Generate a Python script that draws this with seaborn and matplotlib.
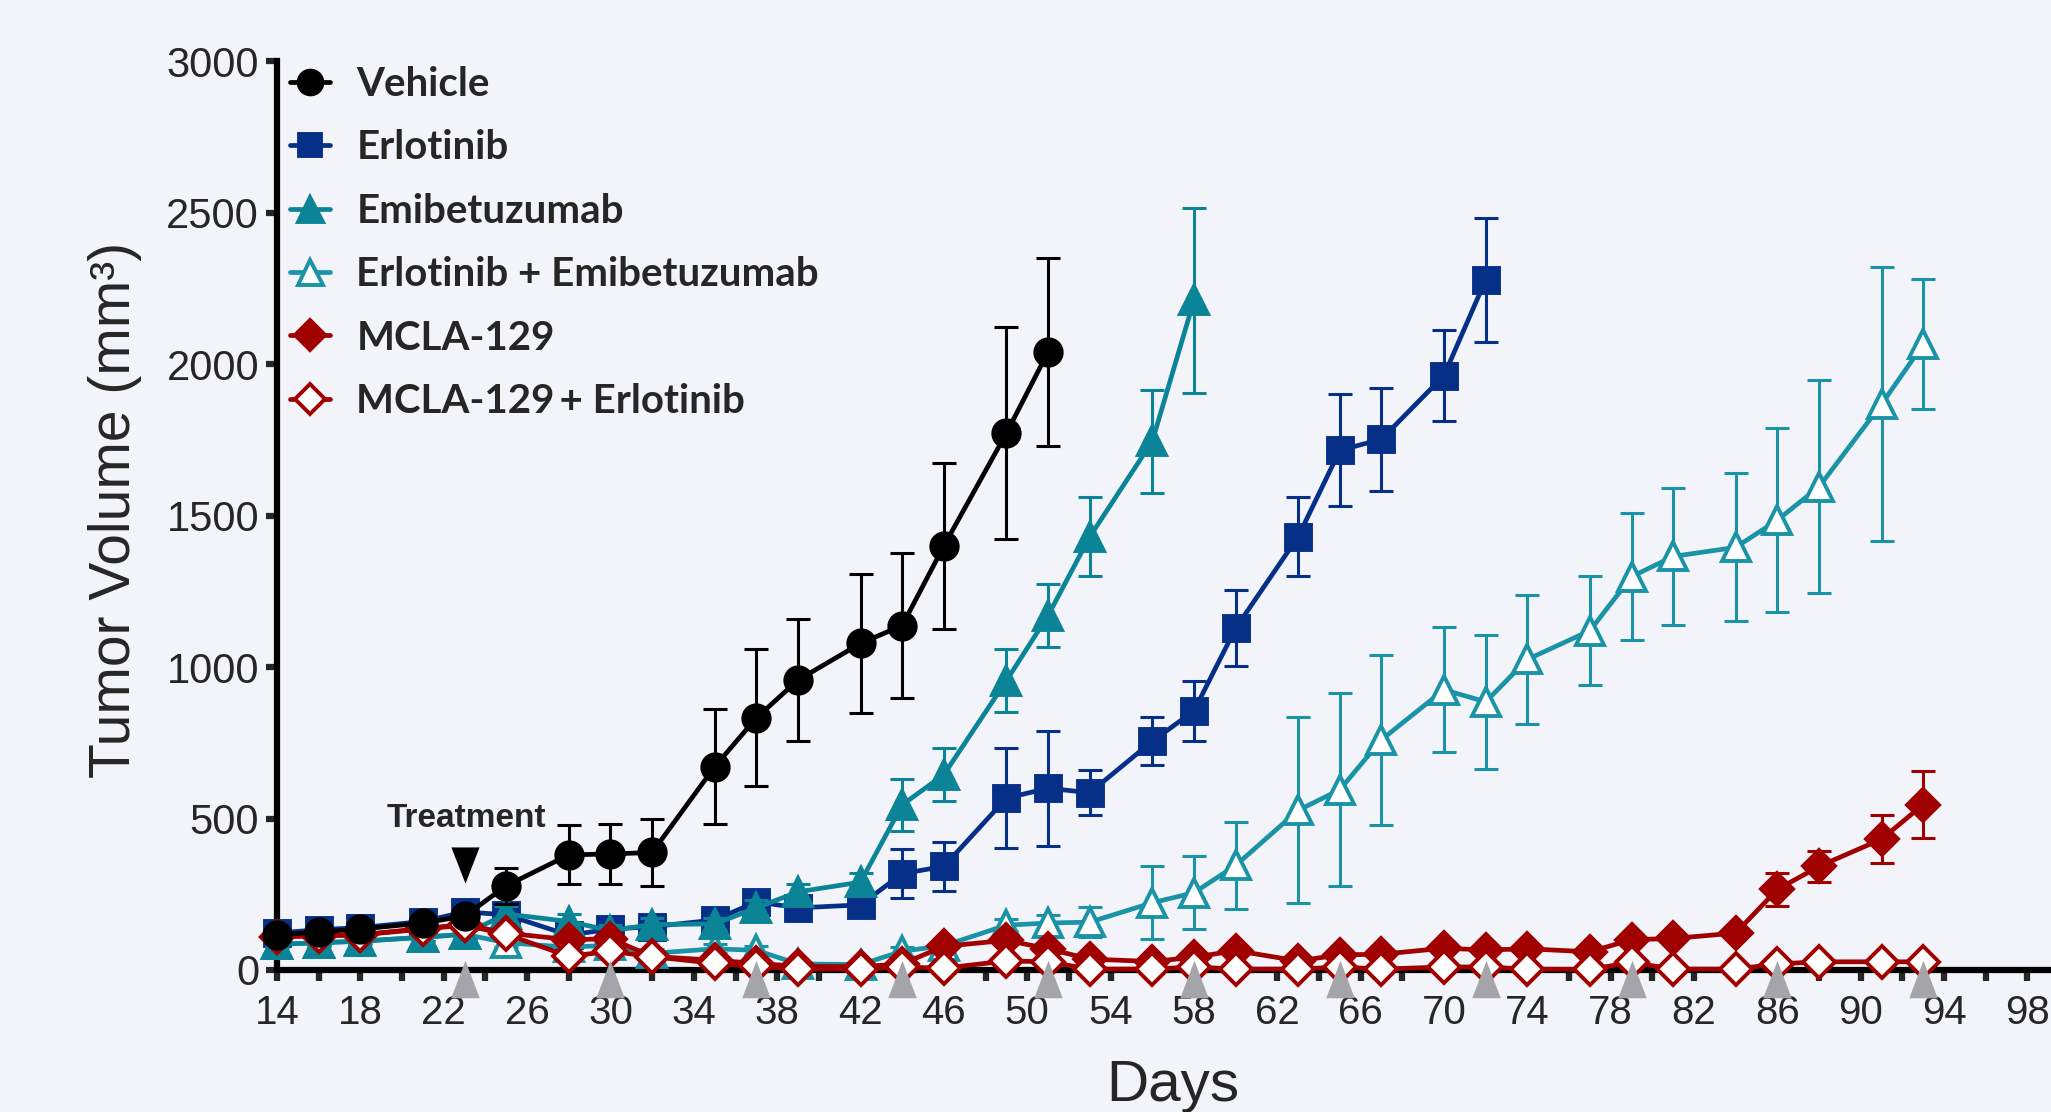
import numpy as np
import pandas as pd
import matplotlib
matplotlib.use("Agg")
import matplotlib.pyplot as plt
import matplotlib.transforms as mtransforms
from matplotlib.lines import Line2D
import seaborn as sns

# ---- data (mean +/- SEM, mm3) ----
all_days = [14, 16, 18, 21, 23, 25, 28, 30, 32, 35, 37, 39, 42, 44, 46, 49, 51, 53,
            56, 58, 60, 63, 65, 67, 70, 72, 74, 77, 79, 81, 84, 86, 88, 91, 93]

vehicle = [115, 126, 135, 155, 178, 278, 380, 383, 388, 671, 832, 957, 1078, 1137,
           1400, 1772, 2040]
vehicle_sem = [10, 12, 12, 18, 25, 60, 97, 100, 110, 190, 226, 200, 229, 240, 275,
               350, 310]

erlotinib = [122, 133, 140, 160, 192, 182, 115, 135, 143, 165, 225, 205, 215, 318,
             342, 567, 600, 585, 755, 855, 1128, 1430, 1715, 1752, 1962, 2278]
erlotinib_sem = [10, 12, 12, 20, 35, 30, 20, 15, 15, 20, 30, 25, 25, 80, 80, 165,
                 190, 75, 80, 100, 125, 130, 185, 170, 150, 205]

emibetuzumab = [85, 90, 95, 108, 118, 185, 160, 130, 150, 152, 205, 258, 290, 545,
                645, 955, 1170, 1430, 1745, 2210]
emibetuzumab_sem = [10, 10, 10, 12, 15, 25, 25, 20, 20, 20, 25, 25, 30, 85, 88, 103,
                    103, 130, 170, 305]

erl_emi = [85, 90, 95, 108, 118, 90, 75, 82, 55, 70, 65, 20, 18, 62, 80, 148, 155,
           158, 222, 255, 345, 527, 595, 760, 925, 885, 1025, 1120, 1298, 1365, 1395,
           1485, 1595, 1868, 2065]
erl_emi_sem = [10, 10, 10, 12, 15, 15, 15, 15, 15, 15, 15, 10, 10, 15, 15, 20, 25,
               50, 121, 121, 143, 307, 318, 281, 207, 222, 212, 181, 210, 227, 244,
               303, 352, 452, 214]

mcla = [110, 113, 116, 137, 150, 122, 100, 103, 45, 32, 22, 12, 11, 20, 78, 98, 70,
        36, 28, 42, 64, 30, 50, 52, 72, 66, 70, 60, 100, 104, 122, 266, 342, 432, 546]
mcla_sem = [10, 10, 10, 15, 15, 15, 15, 15, 10, 10, 10, 8, 8, 8, 10, 10, 10, 8, 8, 8,
            10, 8, 8, 8, 10, 10, 10, 10, 12, 12, 12, 55, 50, 80, 110]

mcla_erl = [110, 113, 116, 135, 148, 118, 45, 62, 44, 22, 12, 3, 3, 10, 6, 30, 27, 3,
            3, 10, 3, 3, 10, 3, 10, 10, 3, 2, 25, 3, 3, 20, 27, 27, 27]
mcla_erl_sem = [8] * 35

dose_days = [23, 30, 37, 44, 51, 58, 65, 72, 79, 86, 93]
treatment_day = 23
treatment_level = 346

x_ticks = list(range(14, 99, 4))
y_ticks = [0, 500, 1000, 1500, 2000, 2500, 3000]

groups = ["Vehicle", "Erlotinib", "Emibetuzumab", "Erlotinib + Emibetuzumab",
          "MCLA-129", "MCLA-129 + Erlotinib"]
legend_labels = ["Vehicle", "Erlotinib", "Emibetuzumab", "Erlotinib + Emibetuzumab",
                 "MCLA-129", "MCLA-129\u2009+ Erlotinib"]
means = [vehicle, erlotinib, emibetuzumab, erl_emi, mcla, mcla_erl]
sems = [vehicle_sem, erlotinib_sem, emibetuzumab_sem, erl_emi_sem, mcla_sem, mcla_erl_sem]

# ---- styles ----
bg = "#F3F4FA"
styles = {
    "Vehicle": dict(color="#000000", marker="o", ms=19, mfc="#000000", z=7),
    "Erlotinib": dict(color="#062F88", marker="s", ms=18, mfc="#062F88", z=2),
    "Emibetuzumab": dict(color="#0B8497", marker="^", ms=20, mfc="#0B8497", z=4),
    "Erlotinib + Emibetuzumab": dict(color="#1A93A6", marker="^", ms=20, mfc="white", z=3),
    "MCLA-129": dict(color="#A00000", marker="D", ms=16.5, mfc="#A00000", z=5),
    "MCLA-129 + Erlotinib": dict(color="#A00000", marker="D", ms=16.5, mfc="white", z=6),
}

frames = []
for g, m, s in zip(groups, means, sems):
    frames.append(pd.DataFrame({"group": g, "day": all_days[:len(m)], "volume": m, "sem": s}))
df = pd.concat(frames, ignore_index=True)

sns.set_style("ticks")
plt.rcParams["font.family"] = ["Liberation Sans", "DejaVu Sans"]
plt.rcParams["axes.facecolor"] = bg
plt.rcParams["figure.facecolor"] = bg

fig = plt.figure(figsize=(20.51, 11.12), dpi=100)
ax = fig.add_axes([0.1351, 0.1277, 0.8649, 0.8174])
ax.set_facecolor(bg)

for g in groups:
    st = styles[g]
    sub = df[df["group"] == g]
    ax.errorbar(sub["day"], sub["volume"], yerr=sub["sem"], fmt="none",
                ecolor=st["color"], elinewidth=2.2, capsize=8.5, capthick=2.2,
                zorder=st["z"], clip_on=False)
    sns.lineplot(data=sub, x="day", y="volume", ax=ax, color=st["color"],
                 linewidth=3.4, marker=st["marker"], markersize=st["ms"],
                 markerfacecolor=st["mfc"], markeredgecolor=st["color"],
                 markeredgewidth=2.8, zorder=st["z"] + 0.5, clip_on=False,
                 errorbar=None, legend=False)

ax.set_xlim(14, 99.13)
ax.set_ylim(0, 3000)
ax.set_xticks(x_ticks)
ax.set_xticks(list(range(16, 98, 4)), minor=True)
ax.set_yticks(y_ticks)
sns.despine(ax=ax)
for side in ["left", "bottom"]:
    ax.spines[side].set_linewidth(4.5)
    ax.spines[side].set_color("black")
    ax.spines[side].set_zorder(1)
ax.tick_params(axis="x", which="both", direction="out", length=8, width=4.5,
               pad=9, labelsize=29)
ax.tick_params(axis="y", which="both", direction="out", length=8, width=4.5,
               pad=5, labelsize=30)
for lab in ax.get_xticklabels():
    lab.set_family(["Liberation Sans Narrow", "Liberation Sans"])

ax.set_xlabel("Days", fontsize=42, family=["Liberation Sans Narrow", "Liberation Sans"])
ax.xaxis.label.set_va("center")
ax.xaxis.set_label_coords(0.505, -0.128)
ax.set_ylabel("Tumor Volume (mm\u00b3)", fontsize=41)
ax.yaxis.label.set_va("center")
ax.yaxis.set_label_coords(-0.0913, 0.506)

# dosing arrowheads below the axis
trans = mtransforms.blended_transform_factory(ax.transData, ax.transAxes)
tall_up = [(-0.38, -0.5), (0.38, -0.5), (0.0, 0.5), (-0.38, -0.5)]
ax.plot(dose_days, [-0.0099] * len(dose_days), transform=trans, linestyle="none",
        marker=tall_up, markersize=27, color="#A5A5A9", markeredgewidth=0,
        clip_on=False, zorder=10)

# treatment start marker
tall_down = [(-0.39, 0.5), (0.39, 0.5), (0.0, -0.5), (-0.39, 0.5)]
ax.plot([treatment_day], [treatment_level], linestyle="none", marker=tall_down,
        markersize=26, color="black", markeredgewidth=0, zorder=10)
ax.text(treatment_day + 0.1, treatment_level + 155, "Treatment", fontsize=24,
        fontweight="bold", ha="center", va="center")

handles = []
for g in groups:
    st = styles[g]
    handles.append(Line2D([], [], color=st["color"], linewidth=3.4, marker=st["marker"],
                          markersize=st["ms"] * 0.9, markerfacecolor=st["mfc"],
                          markeredgecolor=st["color"], markeredgewidth=2.8))
leg = ax.legend(handles, legend_labels, loc="upper left",
                bbox_to_anchor=(290 / 2051, 1 - 66 / 1112),
                bbox_transform=fig.transFigure, frameon=False,
                prop={"family": ["Lato", "DejaVu Sans"], "weight": "bold", "size": 29},
                handlelength=1.0, handletextpad=0.65, labelspacing=0.655,
                borderpad=0, borderaxespad=0)
leg.set_zorder(20)

fig.savefig("out.png", dpi=100, facecolor=bg)
